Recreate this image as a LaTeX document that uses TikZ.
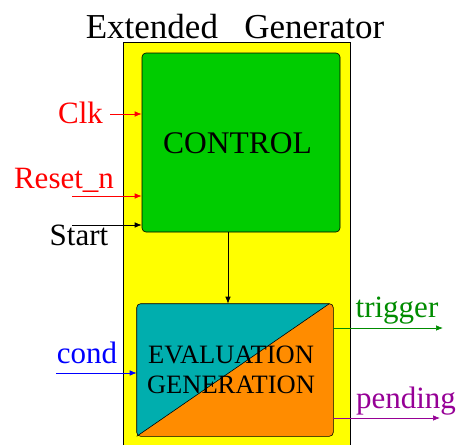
\documentclass[tikz,border=0pt]{standalone}
\usepackage{fontspec}
\setmainfont{Liberation Serif}
\usetikzlibrary{arrows.meta,calc}
\definecolor{frameyellow}{RGB}{255,255,0}
\definecolor{ctrlgreen}{RGB}{0,204,0}
\definecolor{evalteal}{RGB}{0,174,174}
\definecolor{genorange}{RGB}{255,140,0}
\definecolor{trigreen}{RGB}{0,140,0}
\definecolor{pendpurple}{RGB}{150,0,150}
\tikzset{
  arr/.style={-{Latex[length=7pt,width=5.5pt]}, line width=0.7pt},
  lbl/.style={anchor=base, inner sep=0pt, font=\fontsize{31}{31}\selectfont},
  block/.style={draw=black, line width=0.6pt, rounded corners=4pt, inner sep=0pt},
}
\begin{document}
\begin{tikzpicture}[x=1pt,y=-1pt]
\useasboundingbox (0,0) rectangle (456,445);

% outer frame
\node[draw=black, line width=0.6pt, fill=frameyellow, minimum width=227pt,
      minimum height=410pt, inner sep=0pt, anchor=north west] (frame) at (123,42) {};
\node[lbl, font=\fontsize{35}{35}\selectfont] (title) at (235,38) {Extended\hspace{0.5em} Generator};

% control block
\node[block, fill=ctrlgreen, minimum width=198pt, minimum height=179pt] (ctrl) at (241,142.5) {};
\node[lbl, font=\fontsize{31.5}{31.5}\selectfont] (ctrltext) at (237.5,153) {CONTROL};

% evaluation / generation block
\node[block, draw=none, minimum width=196pt, minimum height=132pt] (eval) at (235,370) {};
\fill[genorange, rounded corners=4pt] (eval.north west) rectangle (eval.south east);
\begin{scope}
  \clip[rounded corners=4pt] (eval.north west) rectangle (eval.south east);
  \fill[evalteal] (eval.south west) -- ($(eval.north east)+(-4,0)$) -- (eval.north west) -- cycle;
\end{scope}
\draw[line width=0.6pt] (eval.south west) -- ($(eval.north east)+(-4,0)$);
\draw[line width=0.6pt, rounded corners=4pt] (eval.north west) rectangle (eval.south east);
\node[lbl, font=\fontsize{26.5}{26.5}\selectfont] (evaltext) at (231,363) {EVALUATION};
\node[lbl, font=\fontsize{26.5}{26.5}\selectfont] (gentext) at (231,393) {GENERATION};

% internal connection
\coordinate (mid) at (228,0);
\draw[arr] (ctrl.south -| mid) -- (eval.north -| mid);

% inputs
\node[lbl, text=red] (clk) at (80.5,123) {Clk};
\coordinate (clkin) at (110,114);
\draw[arr, red] (clkin) -- (clkin -| ctrl.west);

\node[lbl, text=red] (rst) at (64,188) {Reset\_n};
\coordinate (rstin) at (72,196);
\draw[arr, red] (rstin) -- (rstin -| ctrl.west);

\node[lbl] (start) at (79,245) {Start};
\coordinate (startin) at (72,225);
\draw[arr] (startin) -- (startin -| ctrl.west);

\node[lbl, text=blue] (cond) at (87,363) {cond};
\coordinate (condin) at (56,373);
\draw[arr, blue] (condin) -- (condin -| eval.west);

% outputs
\node[lbl, text=trigreen] (trig) at (397,317) {trigger};
\coordinate (trigout) at (443,328);
\draw[arr, trigreen] (trigout -| eval.east) -- (trigout);

\node[lbl, text=pendpurple] (pend) at (406,408) {pending};
\coordinate (pendout) at (440,418);
\draw[arr, pendpurple] (pendout -| eval.east) -- (pendout);
\end{tikzpicture}
\end{document}
